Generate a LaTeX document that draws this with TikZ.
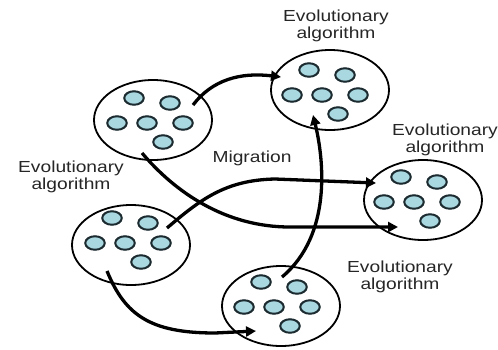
\documentclass[tikz,border=0pt]{standalone}
\usepackage{fontspec}
\newfontfamily\lblfont[FakeStretch=1.2]{Liberation Sans}
\usetikzlibrary{shapes.geometric,arrows.meta}
\definecolor{cellfill}{HTML}{A9D8E1}
\definecolor{celledge}{HTML}{1C2B30}
\definecolor{inkgray}{HTML}{262626}
\tikzset{
  island/.style={draw=black, line width=1.8pt, ellipse, minimum width=118pt, minimum height=80pt, inner sep=0pt},
  cell/.style={draw=celledge, fill=cellfill, line width=2pt, ellipse, minimum width=19.5pt, minimum height=13.5pt, inner sep=0pt},
  migrate/.style={line width=3.3pt, -{Triangle[length=10pt,width=10pt]}},
  caption/.style={font=\lblfont\fontsize{16}{17}\selectfont, text=inkgray, align=center, inner sep=0pt},
}
% six individuals of one population around a centre point
\newcommand\cellcluster[3]{%
  \foreach \dx/\dy [count=\k] in {-18/-21,18/-16,-35/4,-5/4,31/4,11/23}
    \node[cell] (#1-\k) at ({#2+\dx},{#3+\dy}) {};
}
\begin{document}
\begin{tikzpicture}[x=1pt,y=-1pt]
  \fill[white] (0,0) rectangle (498,349);
  \useasboundingbox (0,0) rectangle (498,349);

  % populations
  \node[island] (p1) at (153,120) {};
  \node[island] (p2) at (330,90) {};
  \node[island] (p3) at (423,200) {};
  \node[island] (p4) at (131,245) {};
  \node[island] (p5) at (281,306) {};

  \cellcluster{c1}{152}{119}
  \cellcluster{c2}{327}{91}
  \cellcluster{c3}{419}{198}
  \cellcluster{c4}{130}{239}
  \cellcluster{c5}{279}{303}

  % labels
  \node[caption] (t2) at (336,26) {Evolutionary\\algorithm};
  \node[caption] (t3) at (445,140) {Evolutionary\\algorithm};
  \node[caption] (t4) at (71,177) {Evolutionary\\algorithm};
  \node[caption] (t5) at (400,277) {Evolutionary\\algorithm};
  \node[caption] (mig) at (252,158) {Migration};

  % migration routes: start and end points inside the populations
  \coordinate (a0) at (193,105);  \coordinate (a1) at (281,77);
  \coordinate (b0) at (142,153);  \coordinate (b1) at (398,227);
  \coordinate (c0) at (167,228);  \coordinate (c1) at (376,183);
  \coordinate (d0) at (107,271);  \coordinate (d1) at (256,331);
  \coordinate (e0) at (282,277);  \coordinate (e1) at (313,115);

  \draw[migrate] (a0) .. controls (212,80) and (240,72) .. (a1);
  \draw[migrate] (b0) .. controls (175,192) and (225,227) .. (290,227) -- (b1);
  \draw[migrate] (c0) .. controls (200,200) and (225,180) .. (275,179) -- (c1);
  \draw[migrate] (d0) .. controls (125,315) and (150,333) .. (215,333) -- (d1);
  \draw[migrate] (e0) .. controls (332,235) and (324,160) .. (e1);
\end{tikzpicture}
\end{document}
